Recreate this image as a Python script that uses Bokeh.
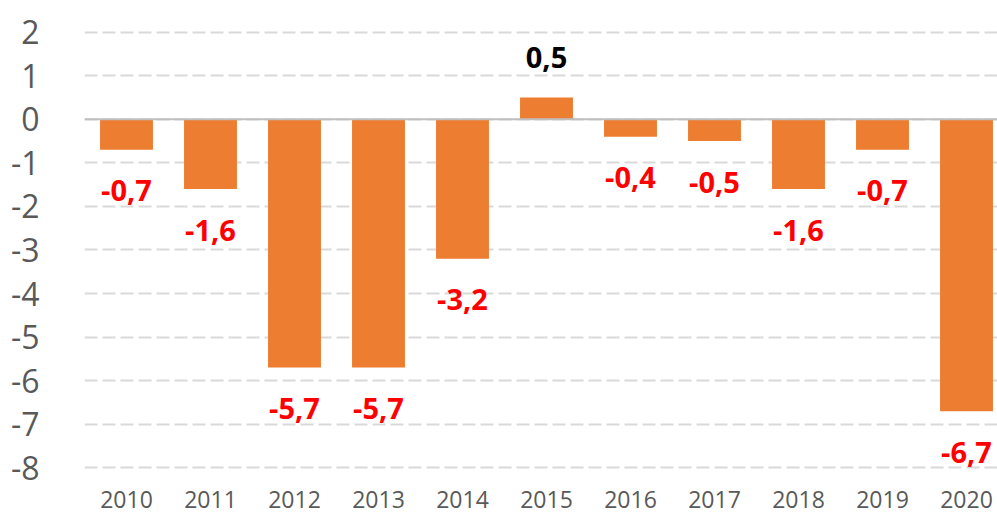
import numpy as np
from bokeh.plotting import figure
from bokeh.models import ColumnDataSource, Range1d, FixedTicker, Span
from bokeh.core.properties import value
from bokeh.embed import file_html
from bokeh.resources import INLINE

years = ["2010", "2011", "2012", "2013", "2014", "2015", "2016", "2017", "2018", "2019", "2020"]
values = [-0.7, -1.6, -5.7, -5.7, -3.2, 0.5, -0.4, -0.5, -1.6, -0.7, -6.7]
y_ticks = [-8, -7, -6, -5, -4, -3, -2, -1, 0, 1, 2]

src = ColumnDataSource(dict(
    x=list(range(len(years))),
    top=values,
    label=[f"{v:.1f}".replace(".", ",") for v in values],
    color=["#FF0000" if v < 0 else "#000000" for v in values],
    off=[41 if v < 0 else -40 for v in values],
))

p = figure(width=997, height=516, output_backend="svg", toolbar_location=None,
           x_range=Range1d(-0.5, -0.5 + 913 / 84), y_range=Range1d(-8.246, 2.728),
           min_border_left=84, min_border_right=0, min_border_top=0, min_border_bottom=38)
p.outline_line_color = None
p.background_fill_color = "white"
p.border_fill_color = "white"

p.vbar(x="x", top="top", bottom=0, width=0.63, source=src,
       fill_color="#ED7D31", line_color=None)

p.add_layout(Span(location=0, dimension="width", line_color="#BFBFBF", line_width=2), "center")

p.text(x="x", y="top", text="label", source=src, text_color="color", y_offset="off",
       text_align="center", text_baseline="middle", text_font=value("Open Sans"),
       text_font_size="29px", text_font_style="bold")

p.xgrid.grid_line_color = None
p.ygrid.ticker = FixedTicker(ticks=y_ticks)
p.ygrid.grid_line_color = "#D9D9D9"
p.ygrid.grid_line_width = 2
p.ygrid.grid_line_dash = "13 5"

p.yaxis.ticker = FixedTicker(ticks=y_ticks)
p.yaxis.major_label_overrides = {t: str(t) for t in y_ticks}
p.yaxis.axis_line_color = None
p.yaxis.major_tick_line_color = None
p.yaxis.minor_tick_line_color = None
p.yaxis.major_label_text_font = "Open Sans"
p.yaxis.major_label_text_font_size = "32px"
p.yaxis.major_label_text_color = "#595959"
p.yaxis.major_label_standoff = 39

p.xaxis.ticker = FixedTicker(ticks=list(range(len(years))))
p.xaxis.major_label_overrides = {i: y for i, y in enumerate(years)}
p.xaxis.axis_line_color = None
p.xaxis.major_tick_line_color = None
p.xaxis.minor_tick_line_color = None
p.xaxis.major_label_text_font = "Open Sans"
p.xaxis.major_label_text_font_size = "23px"
p.xaxis.major_label_text_color = "#595959"
p.xaxis.major_label_standoff = 6

open("out.html", "w").write(file_html(p, INLINE))
